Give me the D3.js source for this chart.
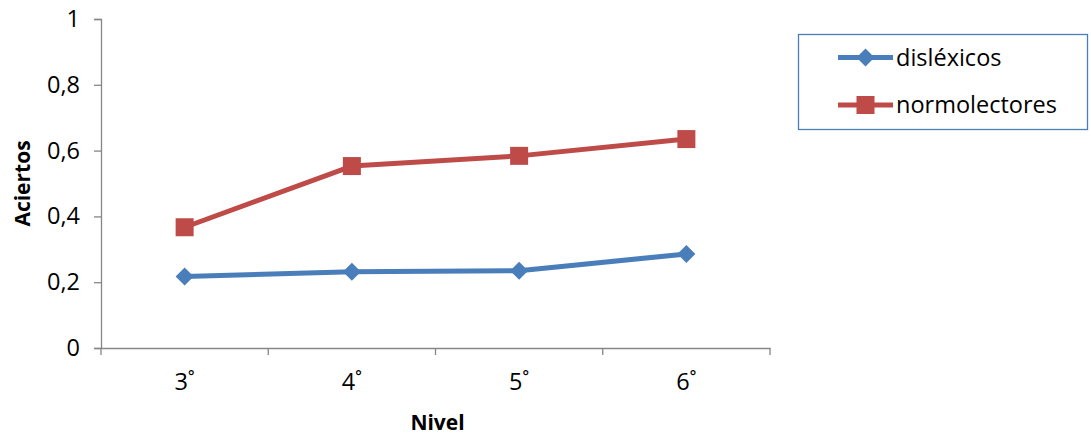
<!DOCTYPE html>
<html>
<head>
<meta charset="utf-8">
<script src="https://cdn.jsdelivr.net/npm/d3@7"></script>
<style>
  body { margin: 0; background: #fff; }
  svg { display: block; font-family: "Open Sans", sans-serif; }
</style>
</head>
<body>
<svg id="chart" width="1091" height="437"></svg>
<script>
const categories = ["3˚", "4˚", "5˚", "6˚"];
const dislexicos = [0.217, 0.232, 0.235, 0.286];
const normolectores = [0.367, 0.553, 0.584, 0.635];
const yTicks = [0, 0.2, 0.4, 0.6, 0.8, 1];
const yTickLabels = ["0", "0,2", "0,4", "0,6", "0,8", "1"];

const series = [
  { name: "disléxicos", values: dislexicos, color: "#4a7ebb", marker: "diamond" },
  { name: "normolectores", values: normolectores, color: "#be4b48", marker: "square" }
];

const svg = d3.select("#chart");
const plotLeft = 101, plotRight = 770, plotTop = 19, plotBottom = 348;
const fontFamily = "'Open Sans', sans-serif";
const fontSize = 23.5;
const titleSize = 21;

const x = d3.scaleBand().domain(categories).range([plotLeft, plotRight]);
const y = d3.scaleLinear().domain([0, 1]).range([plotBottom, plotTop]);

const axisColor = "#868686";

// y axis
const yAxis = svg.append("g").attr("transform", `translate(${plotLeft},0)`)
  .call(d3.axisLeft(y).tickValues(yTicks).tickSize(7)
    .tickFormat((d, i) => yTickLabels[i]).tickPadding(14));
// x axis with tick marks between categories
const xAxis = svg.append("g").attr("transform", `translate(0,${plotBottom})`)
  .call(d3.axisBottom(x).tickSize(0).tickPadding(42));
xAxis.selectAll(".tick").append("line")
  .attr("x1", -x.bandwidth() / 2).attr("x2", -x.bandwidth() / 2)
  .attr("y1", 0).attr("y2", 7);
xAxis.append("line").attr("x1", plotRight).attr("x2", plotRight).attr("y1", 0).attr("y2", 7);

[yAxis, xAxis].forEach(g => {
  g.select(".domain").attr("stroke", axisColor).attr("stroke-width", 1.3);
  g.selectAll("line").attr("stroke", axisColor).attr("stroke-width", 1.3);
  g.selectAll("text").attr("font-size", fontSize).attr("fill", "#000")
    .attr("font-family", fontFamily);
});
xAxis.selectAll(".tick text").attr("dy", "0");

// axis titles
svg.append("text").attr("x", (plotLeft + plotRight) / 2 + 2).attr("y", 430)
  .attr("text-anchor", "middle").attr("font-size", titleSize).attr("font-weight", "bold")
  .text("Nivel");
svg.append("text").attr("transform", `translate(30,${(plotTop + plotBottom) / 2}) rotate(-90)`)
  .attr("text-anchor", "middle").attr("font-size", titleSize).attr("font-weight", "bold")
  .text("Aciertos");

const line = d3.line().x((d, i) => x(categories[i]) + x.bandwidth() / 2).y(d => y(d));

function drawMarker(g, type, cx, cy, color) {
  if (type === "square") {
    g.append("rect").attr("x", cx - 9).attr("y", cy - 9).attr("width", 18).attr("height", 18)
      .attr("fill", color);
  } else {
    const r = 9;
    g.append("path").attr("d", `M${cx},${cy - r}L${cx + r},${cy}L${cx},${cy + r}L${cx - r},${cy}Z`)
      .attr("fill", color);
  }
}

series.forEach(s => {
  svg.append("path").datum(s.values).attr("d", line)
    .attr("fill", "none").attr("stroke", s.color).attr("stroke-width", 5)
    .attr("stroke-linejoin", "round");
  const g = svg.append("g");
  s.values.forEach((v, i) => drawMarker(g, s.marker, x(categories[i]) + x.bandwidth() / 2, y(v), s.color));
});

// legend
const legend = svg.append("g");
legend.append("rect").attr("x", 798.5).attr("y", 34.5).attr("width", 289).attr("height", 95)
  .attr("fill", "#fff").attr("stroke", "#4a7ebb").attr("stroke-width", 1.3);
series.forEach((s, i) => {
  const ly = 57.5 + i * 47.5;
  legend.append("line").attr("x1", 838).attr("x2", 893).attr("y1", ly).attr("y2", ly)
    .attr("stroke", s.color).attr("stroke-width", 5);
  drawMarker(legend, s.marker, 865.5, ly, s.color);
  legend.append("text").attr("x", 896).attr("y", ly).attr("dy", "0.35em")
    .attr("font-size", fontSize).attr("font-family", fontFamily).text(s.name);
});
</script>
</body>
</html>
